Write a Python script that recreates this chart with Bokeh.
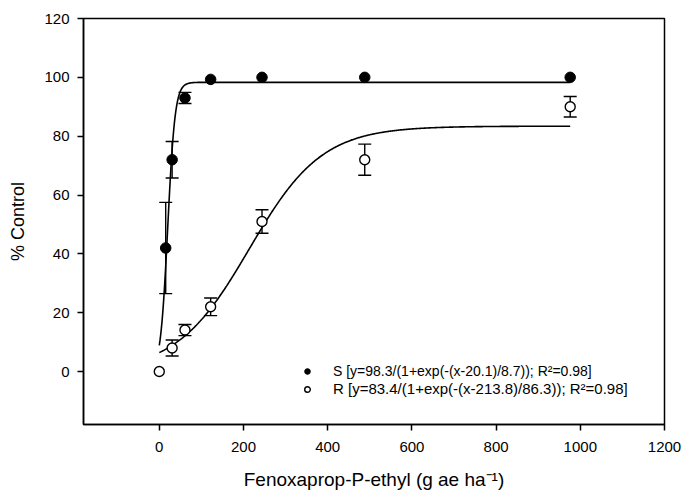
import numpy as np
from bokeh.plotting import figure
from bokeh.models import (ColumnDataSource, Whisker, TeeHead, Legend, LegendItem,
                          FixedTicker, Range1d)
from bokeh.embed import file_html
from bokeh.resources import INLINE

# ---- data ----
s_dose = [15.25, 30.5, 61, 122, 244, 488, 976]
s_ctrl = [42, 72, 93, 99.3, 100, 100, 100]
s_err = [15.5, 6.2, 1.9, 0, 0, 0, 0]

r_dose = [0, 30.5, 61, 122, 244, 488, 976]
r_ctrl = [0, 8, 14.1, 22, 51, 72, 90]
r_err = [0, 2.7, 1.9, 3.0, 4.0, 5.3, 3.5]

# fitted model parameters shown in the legend
s_a, s_x0, s_b = 98.3, 20.1, 8.7
r_a, r_x0, r_b = 83.4, 213.8, 86.3

x_ticks = [0, 200, 400, 600, 800, 1000, 1200]
y_ticks = [0, 20, 40, 60, 80, 100, 120]

s_label = "S [y=98.3/(1+exp(-(x-20.1)/8.7)); R\u00b2=0.98]"
r_label = "R [y=83.4/(1+exp(-(x-213.8)/86.3)); R\u00b2=0.98]"

FONT = "Liberation Sans"

p = figure(width=684, height=495, x_range=Range1d(-180, 1200), y_range=Range1d(-18, 120),
           output_backend="svg", toolbar_location=None,
           min_border_left=83, min_border_right=20, min_border_top=18, min_border_bottom=71)
p.background_fill_color = "white"
p.border_fill_color = "white"
p.xgrid.visible = False
p.ygrid.visible = False
p.outline_line_color = "black"
p.outline_line_width = 1.5
p.outline_line_alpha = 1

for ax in (p.xaxis[0], p.yaxis[0]):
    ax.axis_line_color = "black"
    ax.axis_line_width = 1.5
    ax.major_tick_line_width = 1.5
    ax.major_tick_out = 6
    ax.major_tick_in = 0
    ax.minor_tick_out = 0
    ax.minor_tick_in = 0
    ax.major_label_text_font = FONT
    ax.major_label_text_font_size = "15px"
    ax.major_label_text_color = "black"
    ax.axis_label_text_font = FONT
    ax.axis_label_text_font_style = "normal"
    ax.axis_label_text_color = "black"

p.xaxis.major_label_standoff = 11
p.yaxis.major_label_standoff = 8
p.xaxis.ticker = FixedTicker(ticks=x_ticks)
p.yaxis.ticker = FixedTicker(ticks=y_ticks)
p.xaxis.axis_label = "Fenoxaprop-P-ethyl (g ae ha\u207b\u00b9)"
p.yaxis.axis_label = "% Control"
p.xaxis.axis_label_text_font_size = "19px"
p.yaxis.axis_label_text_font_size = "18px"
p.xaxis.axis_label_standoff = 14
p.yaxis.axis_label_standoff = 13

# fitted curves
xs = np.linspace(0, 976, 600)
s_fit = s_a / (1 + np.exp(-(xs - s_x0) / s_b))
r_fit = r_a / (1 + np.exp(-(xs - r_x0) / r_b))
p.line(xs, s_fit, line_color="black", line_width=1.6)
p.line(xs, r_fit, line_color="black", line_width=1.6)

# error bars
def add_err(dose, ctrl, err):
    d = [(x, y, e) for x, y, e in zip(dose, ctrl, err) if e > 0]
    src = ColumnDataSource(dict(x=[a for a, _, _ in d],
                                lower=[b - c for _, b, c in d],
                                upper=[b + c for _, b, c in d]))
    w = Whisker(source=src, base="x", lower="lower", upper="upper",
                line_color="black", line_width=1.4,
                upper_head=TeeHead(size=13, line_width=1.4, line_color="black"),
                lower_head=TeeHead(size=13, line_width=1.4, line_color="black"))
    p.add_layout(w)

add_err(s_dose, s_ctrl, s_err)
add_err(r_dose, r_ctrl, r_err)

s_r = p.scatter(s_dose, s_ctrl, size=10.5, fill_color="black", line_color="black")
r_r = p.scatter(r_dose, r_ctrl, size=10, fill_color="white", line_color="black", line_width=1.4)


def make_legend(label, rend, loc, fsize):
    lg = Legend(items=[LegendItem(label=label, renderers=[rend])], location=loc)
    lg.border_line_alpha = 0
    lg.background_fill_alpha = 0
    lg.padding = 0
    lg.margin = 0
    lg.spacing = 0
    lg.label_height = 14
    lg.glyph_height = 14
    lg.glyph_width = 20
    lg.label_standoff = 16
    lg.label_text_font = FONT
    lg.label_text_font_size = fsize
    lg.label_text_color = "black"
    return lg


p.add_layout(make_legend(s_label, s_r, (214, 45), "14px"))
p.add_layout(make_legend(r_label, r_r, (214, 27), "15px"))

open("out.html", "w").write(file_html(p, INLINE))
